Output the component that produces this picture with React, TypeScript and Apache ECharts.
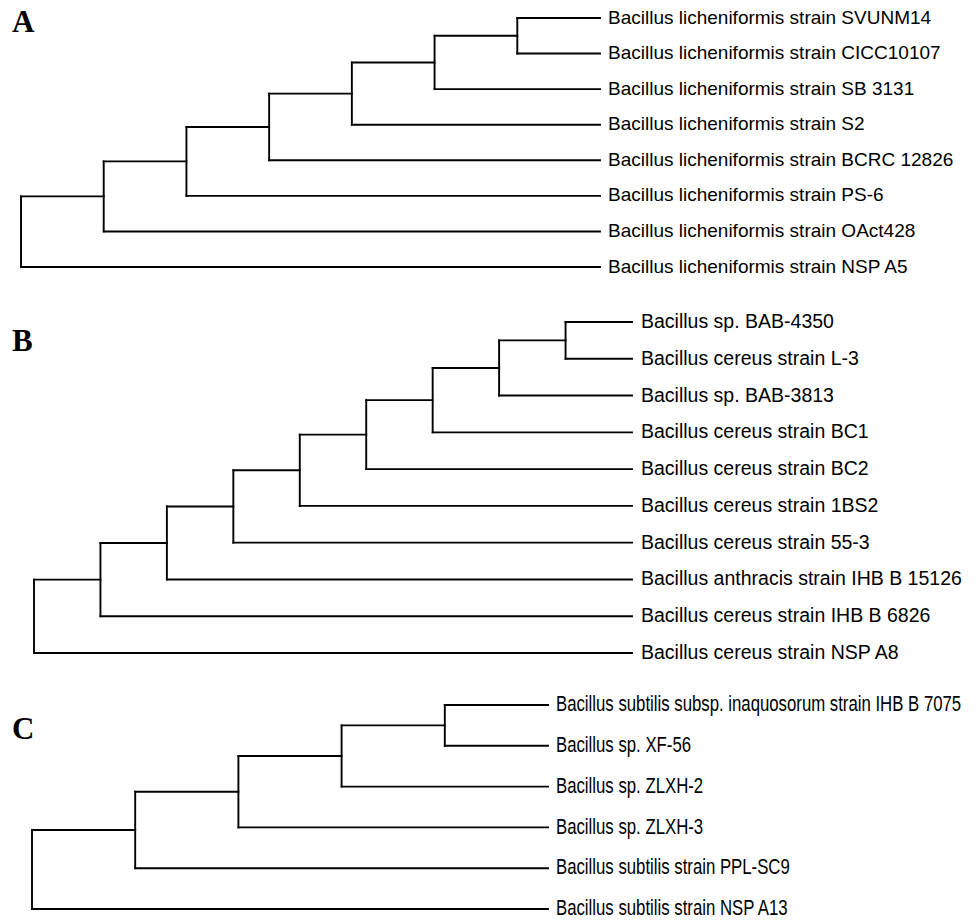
import React, { useEffect, useRef } from "react";
import * as echarts from "echarts";

// Panel A
const leavesA = [
  "Bacillus licheniformis strain SVUNM14",
  "Bacillus licheniformis strain CICC10107",
  "Bacillus licheniformis strain SB 3131",
  "Bacillus licheniformis strain S2",
  "Bacillus licheniformis strain BCRC 12826",
  "Bacillus licheniformis strain PS-6",
  "Bacillus licheniformis strain OAct428",
  "Bacillus licheniformis strain NSP A5",
];
// depth of each internal node, from the root outward
const nodeDepthsA = [0, 1, 2, 3, 4, 5, 6];
const tipDepthA = 7;

// Panel B
const leavesB = [
  "Bacillus sp. BAB-4350",
  "Bacillus cereus strain L-3",
  "Bacillus sp. BAB-3813",
  "Bacillus cereus strain BC1",
  "Bacillus cereus strain BC2",
  "Bacillus cereus strain 1BS2",
  "Bacillus cereus strain 55-3",
  "Bacillus anthracis strain IHB B 15126",
  "Bacillus cereus strain IHB B 6826",
  "Bacillus cereus strain NSP A8",
];
const nodeDepthsB = [0, 1, 2, 3, 4, 5, 6, 7, 8];
const tipDepthB = 9;

// Panel C
const leavesC = [
  "Bacillus subtilis subsp. inaquosorum strain IHB B 7075",
  "Bacillus sp. XF-56",
  "Bacillus sp. ZLXH-2",
  "Bacillus sp. ZLXH-3",
  "Bacillus subtilis strain PPL-SC9",
  "Bacillus subtilis strain NSP A13",
];
const nodeDepthsC = [0, 1, 2, 3, 4];
const tipDepthC = 5;

const panelLetters = ["A", "B", "C"];

function buildSegments(leaves: string[], depths: number[], tip: number) {
  const n = leaves.length;
  const segs: number[][] = [];
  const nodeY: number[] = [];
  const deep = n - 2;
  nodeY[deep] = 0.5;
  segs.push([depths[deep], 0, depths[deep], 1]);
  segs.push([depths[deep], 0, tip, 0]);
  segs.push([depths[deep], 1, tip, 1]);
  for (let k = n - 3; k >= 0; k--) {
    const leaf = n - 1 - k;
    const cy = nodeY[k + 1];
    nodeY[k] = (cy + leaf) / 2;
    segs.push([depths[k], cy, depths[k], leaf]);
    segs.push([depths[k], cy, depths[k + 1], cy]);
    segs.push([depths[k], leaf, tip, leaf]);
  }
  return segs;
}

const trees = [
  { leaves: leavesA, depths: nodeDepthsA, tip: tipDepthA },
  { leaves: leavesB, depths: nodeDepthsB, tip: tipDepthB },
  { leaves: leavesC, depths: nodeDepthsC, tip: tipDepthC },
];

const grids = [
  { left: 21, top: 18, width: 579, height: 249 },
  { left: 34, top: 322, width: 598, height: 331 },
  { left: 32, top: 705, width: 516, height: 204 },
];

const labelFonts = [
  { fontFamily: "Liberation Sans, Arial, sans-serif", fontSize: 19, lineHeight: 19, dx: 8, dy: -1, scaleX: 1 },
  { fontFamily: "Liberation Sans, Arial, sans-serif", fontSize: 19.5, lineHeight: 19.5, dx: 9, dy: -1, scaleX: 1 },
  { fontFamily: "Liberation Sans, Arial, sans-serif", fontSize: 21.5, lineHeight: 16, dx: 8, dy: -1, scaleX: 0.78 },
];

const letterPos = [
  { x: 12, y: 21 },
  { x: 12, y: 340 },
  { x: 12, y: 728 },
];

export default function App() {
  const ref = useRef<HTMLDivElement>(null);
  useEffect(() => {
    if (!ref.current) return;
    const chart = echarts.init(ref.current, undefined, { renderer: "svg" });
    const series: any[] = [];
    trees.forEach((t, i) => {
      series.push({
        type: "custom",
        xAxisIndex: i,
        yAxisIndex: i,
        clip: false,
        silent: true,
        encode: { x: [0, 2], y: [1, 3] },
        data: buildSegments(t.leaves, t.depths, t.tip),
        renderItem: (params: any, api: any) => {
          const p1 = api.coord([api.value(0), api.value(1)]);
          const p2 = api.coord([api.value(2), api.value(3)]);
          return {
            type: "line",
            shape: { x1: p1[0], y1: p1[1], x2: p2[0], y2: p2[1] },
            style: { stroke: "#000", lineWidth: 1.9, lineCap: "square" },
          };
        },
      });
      const f = labelFonts[i];
      series.push({
        type: "custom",
        xAxisIndex: i,
        yAxisIndex: i,
        clip: false,
        silent: true,
        encode: { x: 0, y: 1 },
        data: t.leaves.map((_, j) => [t.tip, j]),
        renderItem: (params: any, api: any) => {
          const p = api.coord([api.value(0), api.value(1)]);
          return {
            type: "text",
            x: p[0] + f.dx,
            y: p[1] + f.dy,
            scaleX: f.scaleX,
            style: {
              text: t.leaves[params.dataIndex],
              fontFamily: f.fontFamily,
              fontSize: f.fontSize,
              lineHeight: f.lineHeight,
              fill: "#000",
              align: "left",
              verticalAlign: "middle",
            },
          };
        },
      });
    });
    chart.setOption({
      animation: false,
      backgroundColor: "#fff",
      grid: grids,
      xAxis: trees.map((t, i) => ({
        type: "value",
        gridIndex: i,
        min: 0,
        max: t.tip,
        show: false,
      })),
      yAxis: trees.map((t, i) => ({
        type: "value",
        gridIndex: i,
        min: 0,
        max: t.leaves.length - 1,
        inverse: true,
        show: false,
      })),
      graphic: panelLetters.map((L, i) => ({
        type: "text",
        x: letterPos[i].x,
        y: letterPos[i].y,
        style: {
          text: L,
          fontFamily: "Liberation Serif, Times New Roman, serif",
          fontWeight: "bold",
          fontSize: 31,
          fill: "#000",
          verticalAlign: "middle",
        },
      })),
      series,
    });
    return () => chart.dispose();
  }, []);
  return (
    <div
      ref={ref}
      style={{ position: "absolute", left: 0, top: 0, width: 978, height: 922 }}
    />
  );
}
